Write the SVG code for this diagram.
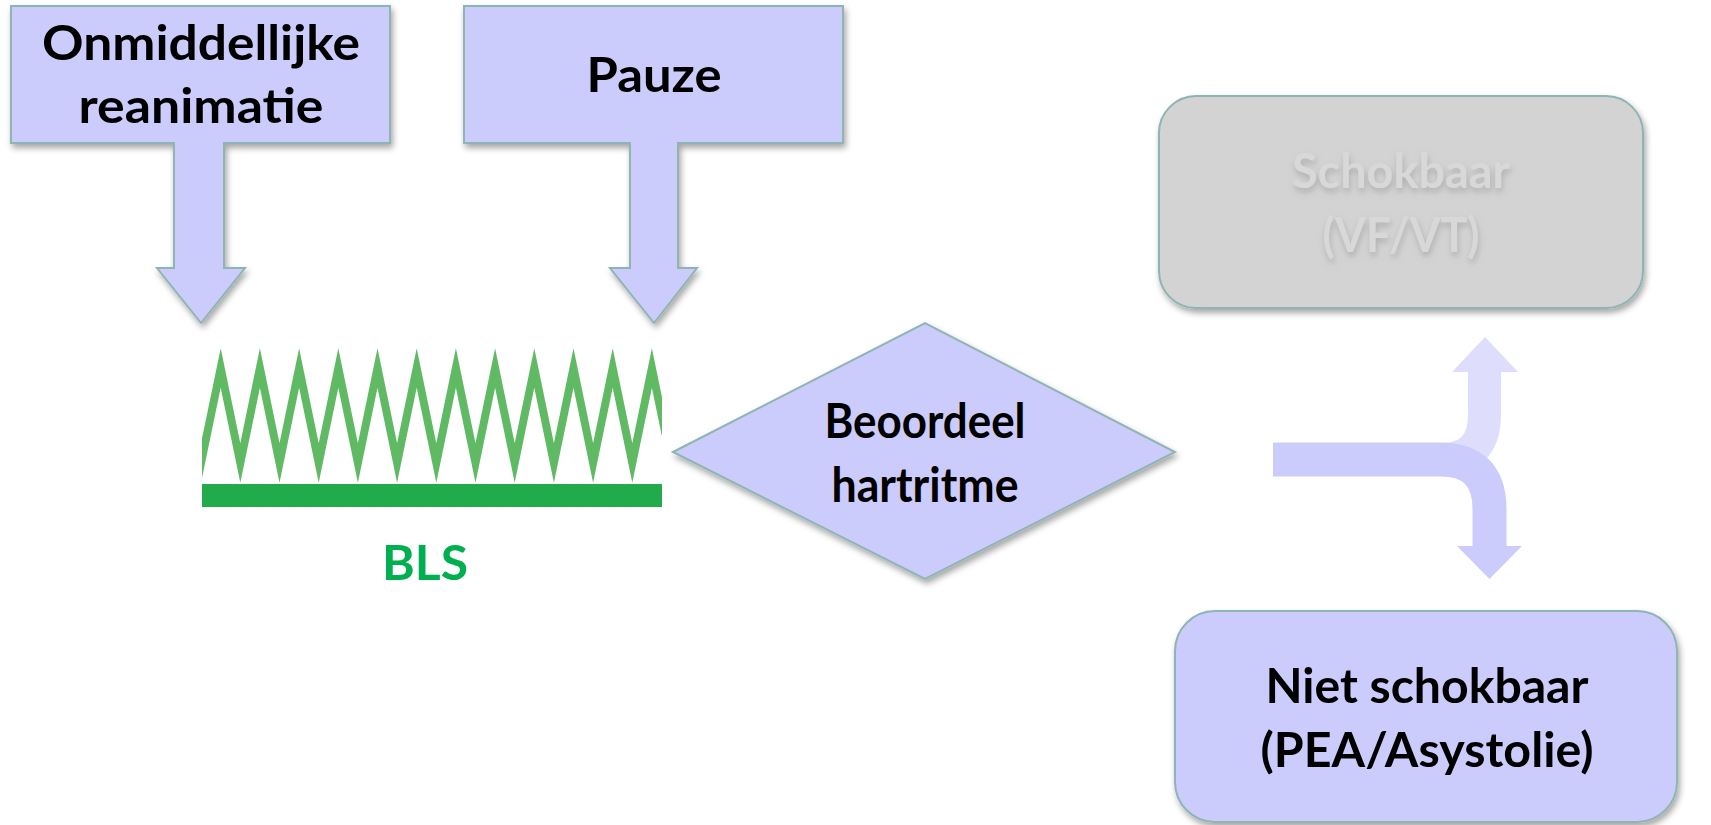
<svg xmlns="http://www.w3.org/2000/svg" width="1711" height="825" viewBox="0 0 1711 825">
<style>
.shape{fill:#ccccfc;stroke:#8fb4b4;stroke-width:2;filter:url(#sh)}
.lbl{font-family:Lato,"Open Sans","Liberation Sans",sans-serif;font-weight:bold;font-size:48px;fill:#000;text-anchor:middle}
</style>
<defs>
<filter id="sh" x="-10%" y="-10%" width="120%" height="130%">
<feDropShadow dx="2" dy="4" stdDeviation="3" flood-color="#000" flood-opacity="0.35"/>
</filter>
<filter id="tsh" x="-10%" y="-20%" width="120%" height="150%">
<feDropShadow dx="1" dy="4" stdDeviation="3" flood-color="#888" flood-opacity="0.5"/>
</filter>
<clipPath id="zz"><rect x="202" y="330" width="460" height="160"/></clipPath>
</defs>
<rect width="1711" height="825" fill="#fff"/>

<g id="node-onmiddellijke">
<path class="shape" d="M11,6 H390 V143 H224 V268 H245 L201,323 L157,268 H174 V143 H11 Z"/>
<text class="lbl" x="201" y="60" textLength="318" lengthAdjust="spacingAndGlyphs">Onmiddellijke</text>
<text class="lbl" x="201" y="123" textLength="245" lengthAdjust="spacingAndGlyphs">reanimatie</text>
</g>

<g id="node-pauze">
<path class="shape" d="M464,6 H843 V143 H678 V268 H697 L654,323 L610,268 H630 V143 H464 Z"/>
<text class="lbl" x="654" y="92" textLength="135" lengthAdjust="spacingAndGlyphs">Pauze</text>
</g>

<g id="node-bls">
<g clip-path="url(#zz)">
<polyline fill="none" stroke="#5fba63" stroke-width="8" stroke-linejoin="miter" stroke-miterlimit="8" points="181.1,368 201,463 220.7,368 240.3,463 259.9,368 279.5,463 299.1,368 318.7,463 338.3,368 357.9,463 377.5,368 397.1,463 416.7,368 436.3,463 455.9,368 475.5,463 495.1,368 514.7,463 534.3,368 553.9,463 573.5,368 593.1,463 612.7,368 632.3,463 651.9,368 671.5,463"/>
</g>
<rect x="202" y="484" width="460" height="23" fill="#21ab4b"/>
<text class="lbl" x="425" y="580" style="fill:#00b050" textLength="86" lengthAdjust="spacingAndGlyphs">BLS</text>
</g>

<g id="node-beoordeel">
<polygon class="shape" points="673,452 925,323 1175,452 925,579"/>
<text class="lbl" x="925" y="438" textLength="201" lengthAdjust="spacingAndGlyphs">Beoordeel</text>
<text class="lbl" x="925" y="502" textLength="187" lengthAdjust="spacingAndGlyphs">hartritme</text>
</g>

<g id="node-schokbaar">
<rect x="1159" y="96" width="484" height="212" rx="37" fill="#d3d3d3" stroke="#8fb4b4" stroke-width="2" filter="url(#sh)"/>
<g filter="url(#tsh)">
<text class="lbl" x="1401" y="188" style="fill:#d8d8d8" textLength="218" lengthAdjust="spacingAndGlyphs">Schokbaar</text>
<text class="lbl" x="1401" y="252" style="fill:#d8d8d8" textLength="157" lengthAdjust="spacingAndGlyphs">(VF/VT)</text>
</g>
</g>

<g id="node-niet-schokbaar">
<rect x="1175" y="611" width="502" height="211" rx="40" class="shape"/>
<text class="lbl" x="1427" y="703" textLength="323" lengthAdjust="spacingAndGlyphs">Niet schokbaar</text>
<text class="lbl" x="1427" y="767" textLength="333" lengthAdjust="spacingAndGlyphs">(PEA/Asystolie)</text>
</g>

<g id="connectors">
<path d="M1273,459.5 H1440 Q1484.5,459.5 1484.5,415 V371" fill="none" stroke="#dedefc" stroke-width="33"/>
<polygon points="1452,372 1485,337 1518,372" fill="#dedefc"/>
<path d="M1273,459.5 H1440 Q1489.5,459.5 1489.5,509 V547" fill="none" stroke="#ccccfc" stroke-width="34"/>
<polygon points="1457,546 1522,546 1489.5,579" fill="#ccccfc"/>
</g>
</svg>
